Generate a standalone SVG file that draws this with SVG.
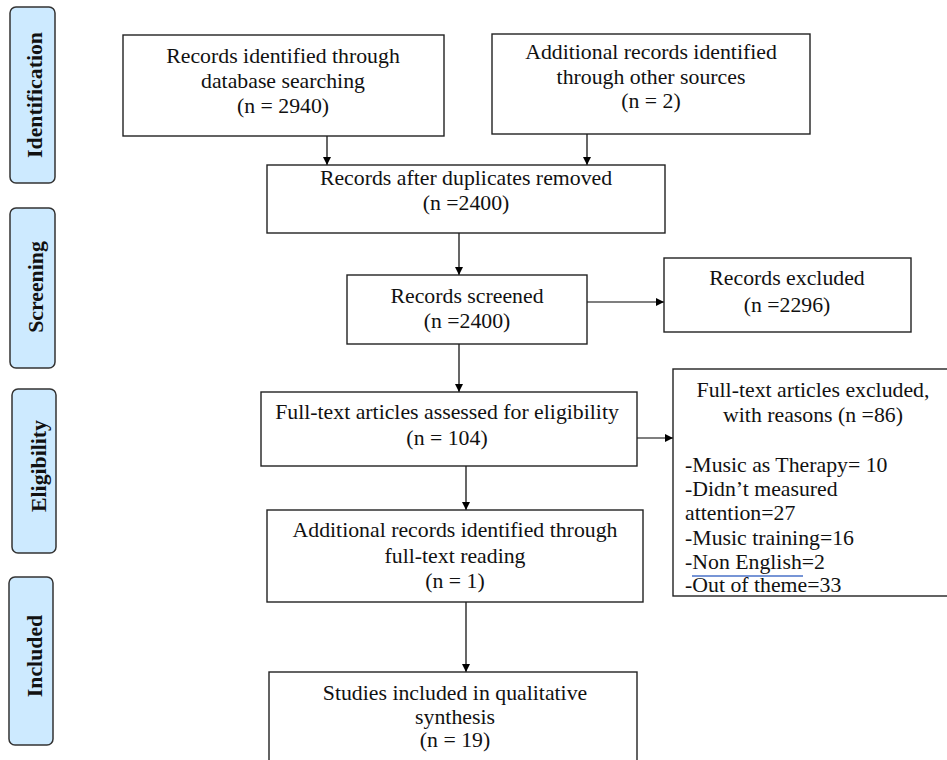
<svg xmlns="http://www.w3.org/2000/svg" width="947" height="760" viewBox="0 0 947 760">
<style>
.box{fill:#fff;stroke:#222;stroke-width:1.4}
.side{fill:#cdeaff;stroke:#333;stroke-width:1.5}
.t{font-family:"Liberation Serif","Times New Roman",serif;font-size:20px;fill:#111;text-anchor:middle}
.l{font-family:"Liberation Serif","Times New Roman",serif;font-size:20px;fill:#111}
.s{font-family:"Liberation Serif","Times New Roman",serif;font-size:20px;font-weight:bold;fill:#111;text-anchor:middle}
.c{stroke:#000;stroke-width:1.2;fill:none;marker-end:url(#ah)}
</style>
<defs>
<marker id="ah" viewBox="0 0 10 10" refX="10" refY="5" markerWidth="8" markerHeight="8" markerUnits="userSpaceOnUse" orient="auto"><path d="M0,0 L10,5 L0,10 z" fill="#000"/></marker>
</defs>
<rect width="947" height="760" fill="#fff"/>

<g id="side-identification"><rect class="side" x="10" y="7" width="45" height="176" rx="6"/><text class="s" transform="translate(42,95) rotate(-90) scale(1.09,1)">Identification</text></g>
<g id="side-screening"><rect class="side" x="10" y="208" width="45" height="160" rx="6"/><text class="s" transform="translate(43,287) rotate(-90) scale(1.09,1)">Screening</text></g>
<g id="side-eligibility"><rect class="side" x="12" y="389" width="44" height="164" rx="6"/><text class="s" transform="translate(46,466) rotate(-90) scale(1.09,1)">Eligibility</text></g>
<g id="side-included"><rect class="side" x="9" y="577" width="44" height="168" rx="6"/><text class="s" transform="translate(42,656) rotate(-90) scale(1.09,1)">Included</text></g>

<g id="connectors">
<line class="c" x1="327" y1="136" x2="327" y2="165"/>
<line class="c" x1="587" y1="134" x2="587" y2="165"/>
<line class="c" x1="459" y1="233" x2="459" y2="275"/>
<line class="c" x1="587" y1="302" x2="664" y2="302"/>
<line class="c" x1="459" y1="344" x2="459" y2="392"/>
<line class="c" x1="637" y1="438" x2="673" y2="438"/>
<line class="c" x1="466" y1="466" x2="466" y2="510"/>
<line class="c" x1="466" y1="602" x2="466" y2="672"/>
</g>

<g id="n-database">
<rect class="box" x="123" y="35" width="321" height="101"/>
<text class="t" transform="translate(283,63) scale(1.09,1)">Records identified through</text>
<text class="t" transform="translate(283,88) scale(1.09,1)">database searching</text>
<text class="t" transform="translate(283,113) scale(1.09,1)">(n = 2940)</text>
</g>
<g id="n-other">
<rect class="box" x="492" y="34" width="318" height="100"/>
<text class="t" transform="translate(651,59) scale(1.09,1)">Additional records identified</text>
<text class="t" transform="translate(651,84) scale(1.09,1)">through other sources</text>
<text class="t" transform="translate(651,108) scale(1.09,1)">(n = 2)</text>
</g>
<g id="n-duplicates">
<rect class="box" x="267" y="165" width="398" height="68"/>
<text class="t" transform="translate(466,185) scale(1.09,1)">Records after duplicates removed</text>
<text class="t" transform="translate(466,210) scale(1.09,1)">(n =2400)</text>
</g>
<g id="n-screened">
<rect class="box" x="347" y="275" width="240" height="69"/>
<text class="t" transform="translate(467,303) scale(1.09,1)">Records screened</text>
<text class="t" transform="translate(467,328) scale(1.09,1)">(n =2400)</text>
</g>
<g id="n-excluded">
<rect class="box" x="664" y="258" width="247" height="74"/>
<text class="t" transform="translate(787,285) scale(1.09,1)">Records excluded</text>
<text class="t" transform="translate(787,312) scale(1.09,1)">(n =2296)</text>
</g>
<g id="n-fulltext">
<rect class="box" x="261" y="392" width="376" height="74"/>
<text class="t" transform="translate(447,419) scale(1.09,1)">Full-text articles assessed for eligibility</text>
<text class="t" transform="translate(447,445) scale(1.09,1)">(n = 104)</text>
</g>
<g id="n-fulltext-excluded">
<rect class="box" x="673" y="369" width="280" height="227"/>
<text class="t" transform="translate(813,397) scale(1.09,1)">Full-text articles excluded,</text>
<text class="t" transform="translate(813,422) scale(1.09,1)">with reasons (n =86)</text>
<text class="l" transform="translate(685,472) scale(1.09,1)">-Music as Therapy= 10</text>
<text class="l" transform="translate(685,496) scale(1.09,1)">-Didn’t measured</text>
<text class="l" transform="translate(685,520) scale(1.09,1)">attention=27</text>
<text class="l" transform="translate(685,545) scale(1.09,1)">-Music training=16</text>
<text class="l" transform="translate(685,569) scale(1.09,1)">-Non English=2</text>
<line x1="692" y1="576" x2="803" y2="576" stroke="#4a72c8" stroke-width="1.5"/>
<text class="l" transform="translate(685,592) scale(1.09,1)">-Out of theme=33</text>
</g>
<g id="n-additional">
<rect class="box" x="267" y="510" width="376" height="92"/>
<text class="t" transform="translate(455,537) scale(1.09,1)">Additional records identified through</text>
<text class="t" transform="translate(455,563) scale(1.09,1)">full-text reading</text>
<text class="t" transform="translate(455,588) scale(1.09,1)">(n = 1)</text>
</g>
<g id="n-included">
<rect class="box" x="269" y="672" width="368" height="100"/>
<text class="t" transform="translate(455,700) scale(1.09,1)">Studies included in qualitative</text>
<text class="t" transform="translate(455,724) scale(1.09,1)">synthesis</text>
<text class="t" transform="translate(455,747) scale(1.09,1)">(n = 19)</text>
</g>
</svg>
